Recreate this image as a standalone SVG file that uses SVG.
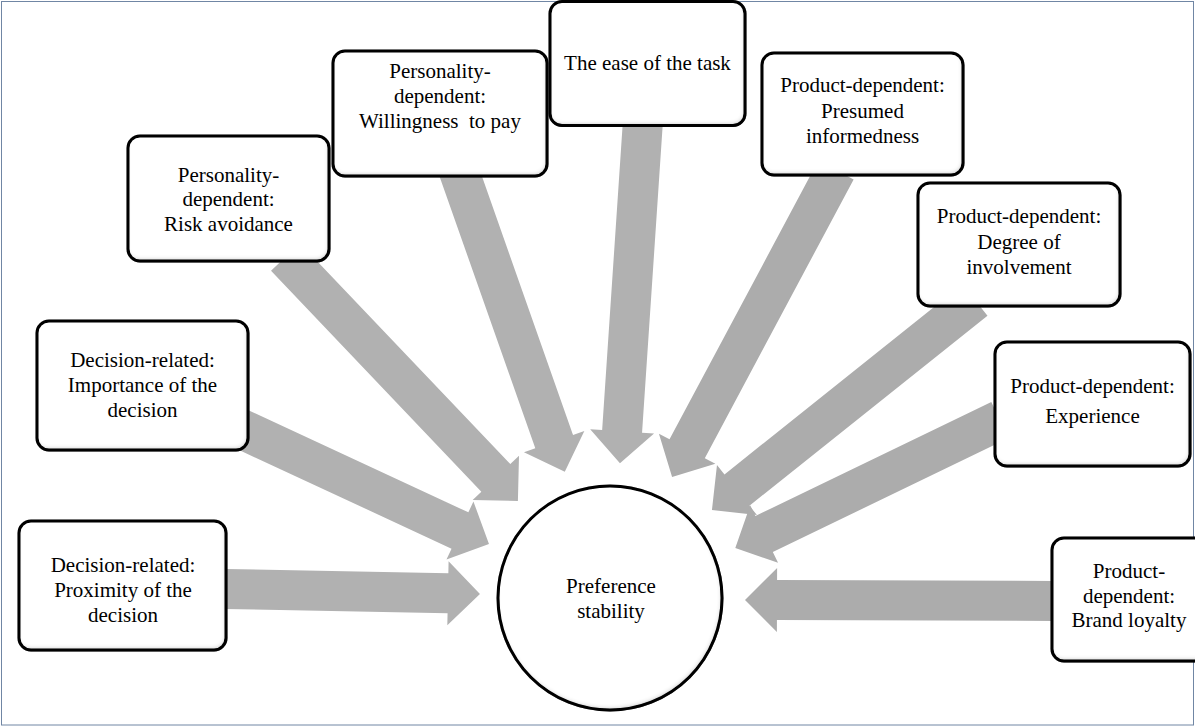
<svg xmlns="http://www.w3.org/2000/svg" width="1195" height="727" viewBox="0 0 1195 727" font-family="'Liberation Serif', serif">
<defs>
<style>
.arrL{fill:#b1b1b1}
.arrR{fill:#acacac}
.box{fill:#fff;stroke:#000;stroke-width:3}
.t{font-family:'Liberation Serif','Times New Roman',serif;font-size:21px;fill:#000;text-anchor:middle}
</style>
<filter id="inset" x="-5%" y="-5%" width="110%" height="110%">
<feGaussianBlur in="SourceAlpha" stdDeviation="2.5" result="b"/>
<feOffset in="b" dx="-1" dy="-2.5" result="o"/>
<feComposite in="SourceAlpha" in2="o" operator="out" result="inner"/>
<feFlood flood-color="#000" flood-opacity="0.7"/>
<feComposite in2="inner" operator="in" result="sh"/>
<feMerge><feMergeNode in="SourceGraphic"/><feMergeNode in="sh"/></feMerge>
</filter>
</defs>
<rect x="0" y="0" width="1195" height="727" fill="#fff"/>
<rect x="1.5" y="1.5" width="1192" height="723.5" fill="none" stroke="#7086a4" stroke-width="1"/>

<g id="connectors">
<polygon class="arrL" transform="translate(225,589) rotate(1.12)" points="0,-20 223,-20 223,-32 255,0 223,32 223,20 0,20"/>
<polygon class="arrL" transform="translate(240,428.4) rotate(24.9)" points="0,-20 242.5,-20 242.5,-32 274.5,0 242.5,32 242.5,20 0,20"/>
<polygon class="arrL" transform="translate(285.5,257) rotate(46.4)" points="0,-20 305,-20 305,-32 337,0 305,32 305,20 0,20"/>
<polygon class="arrL" transform="translate(458.5,170) rotate(70.6)" points="0,-20 288,-20 288,-32 320,0 288,32 288,20 0,20"/>
<polygon class="arrL" transform="translate(643,120) rotate(93.84)" points="0,-20 312,-20 312,-32 344,0 312,32 312,20 0,20"/>
<polygon class="arrR" transform="translate(836,170) rotate(118.1)" points="0,-20 316,-20 316,-32 348,0 316,32 316,20 0,20"/>
<polygon class="arrR" transform="translate(975,300) rotate(141.4)" points="0,-20 304.6,-20 304.6,-32 336.6,0 304.6,32 304.6,20 0,20"/>
<polygon class="arrR" transform="translate(1000,420) rotate(154.2)" points="0,-20 262,-20 262,-32 294,0 262,32 262,20 0,20"/>
<polygon class="arrR" transform="translate(1055,601) rotate(180.2)" points="0,-20 278,-20 278,-32 310,0 278,32 278,20 0,20"/>
</g>

<g id="center">
<circle cx="610" cy="598" r="112" class="box" filter="url(#inset)"/>
<text class="t" x="611" y="593">Preference</text>
<text class="t" x="611" y="618">stability</text>
</g>

<g id="proximity">
<rect class="box" x="19" y="521" width="207" height="129" rx="12" filter="url(#inset)"/>
<text class="t" x="123" y="572">Decision-related:</text>
<text class="t" x="123" y="597">Proximity of the</text>
<text class="t" x="123" y="622">decision</text>
</g>

<g id="importance">
<rect class="box" x="37" y="321" width="211" height="129" rx="12" filter="url(#inset)"/>
<text class="t" x="142.5" y="367">Decision-related:</text>
<text class="t" x="142.5" y="392">Importance of the</text>
<text class="t" x="142.5" y="417">decision</text>
</g>

<g id="risk">
<rect class="box" x="128" y="136" width="201" height="125" rx="12" filter="url(#inset)"/>
<text class="t" x="228.5" y="182">Personality-</text>
<text class="t" x="228.5" y="206">dependent:</text>
<text class="t" x="228.5" y="231">Risk avoidance</text>
</g>

<g id="willingness">
<rect class="box" x="333" y="51" width="214" height="125" rx="12" filter="url(#inset)"/>
<text class="t" x="440" y="78">Personality-</text>
<text class="t" x="440" y="103">dependent:</text>
<text class="t" x="440" y="128" xml:space="preserve">Willingness  to pay</text>
</g>

<g id="ease">
<rect class="box" x="550" y="1.5" width="195" height="124" rx="12" filter="url(#inset)"/>
<text class="t" x="647.5" y="70">The ease of the task</text>
</g>

<g id="informedness">
<rect class="box" x="762" y="53" width="201" height="122" rx="12" filter="url(#inset)"/>
<text class="t" x="862.5" y="92">Product-dependent:</text>
<text class="t" x="862.5" y="118">Presumed</text>
<text class="t" x="862.5" y="143">informedness</text>
</g>

<g id="involvement">
<rect class="box" x="918" y="183" width="202" height="123" rx="12" filter="url(#inset)"/>
<text class="t" x="1019" y="223">Product-dependent:</text>
<text class="t" x="1019" y="249">Degree of</text>
<text class="t" x="1019" y="274">involvement</text>
</g>

<g id="experience">
<rect class="box" x="995" y="342" width="195" height="124" rx="12" filter="url(#inset)"/>
<text class="t" x="1092.5" y="393">Product-dependent:</text>
<text class="t" x="1092.5" y="423">Experience</text>
</g>

<g id="loyalty">
<rect class="box" x="1052" y="538" width="160" height="123" rx="12" filter="url(#inset)"/>
<text class="t" x="1129" y="578">Product-</text>
<text class="t" x="1129" y="603">dependent:</text>
<text class="t" x="1129" y="627">Brand loyalty</text>
</g>
</svg>
